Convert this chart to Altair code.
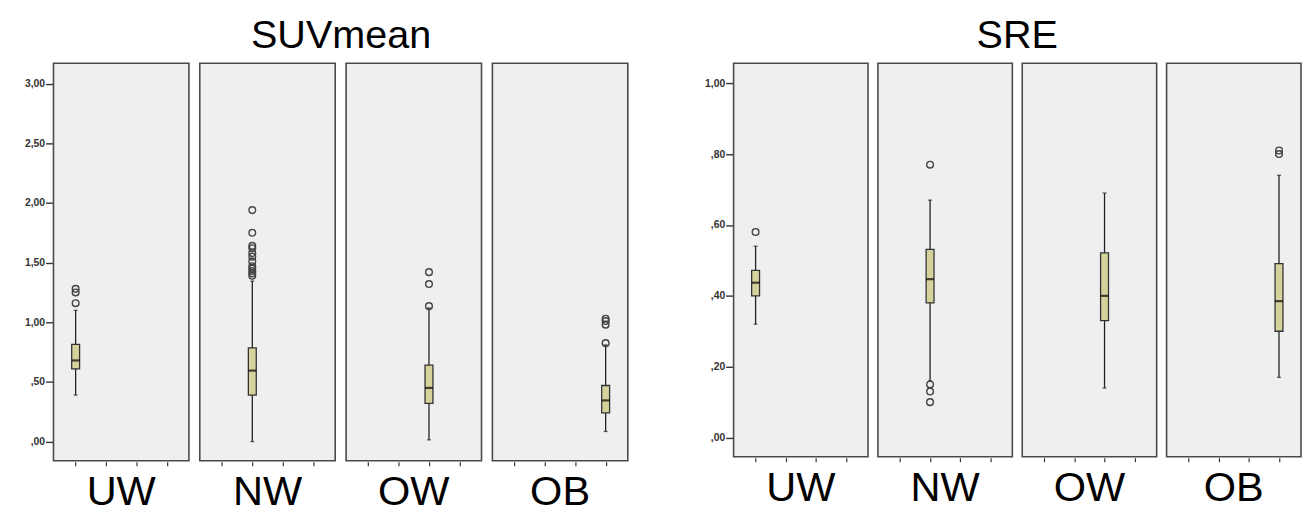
import altair as alt
import pandas as pd

groups = ["UW", "NW", "OW", "OB"]

# SUVmean boxplot statistics
suv_lo = [0.39, 0.00, 0.015, 0.085]
suv_q1 = [0.61, 0.39, 0.32, 0.24]
suv_med = [0.68, 0.595, 0.45, 0.345]
suv_q3 = [0.815, 0.785, 0.64, 0.47]
suv_hi = [1.10, 1.345, 1.12, 0.81]
suv_out_UW = [1.28, 1.25, 1.16]
suv_out_NW = [1.94, 1.75, 1.64, 1.62, 1.58, 1.55, 1.51, 1.47, 1.45, 1.43, 1.41, 1.39]
suv_out_OW = [1.42, 1.32, 1.135]
suv_out_OB = [1.03, 1.01, 0.98, 0.825]

# SRE boxplot statistics
sre_lo = [0.32, 0.16, 0.14, 0.17]
sre_q1 = [0.40, 0.38, 0.33, 0.30]
sre_med = [0.437, 0.447, 0.40, 0.385]
sre_q3 = [0.472, 0.531, 0.521, 0.491]
sre_hi = [0.54, 0.67, 0.69, 0.74]
sre_out_UW = [0.58]
sre_out_NW = [0.77, 0.15, 0.13, 0.10]
sre_out_OW = []
sre_out_OB = [0.81, 0.80]

suv_ticks = [0.0, 0.5, 1.0, 1.5, 2.0, 2.5, 3.0]
sre_ticks = [0.0, 0.2, 0.4, 0.6, 0.8, 1.0]


def make_df(lo, q1, med, q3, hi, outs):
    rows = []
    for i, g in enumerate(groups):
        rows.append(dict(group=g, kind="box", lo=lo[i], q1=q1[i], med=med[i],
                         q3=q3[i], hi=hi[i]))
        for v in outs[i]:
            rows.append(dict(group=g, kind="out", val=v))
    return pd.DataFrame(rows)


suv_df = make_df(suv_lo, suv_q1, suv_med, suv_q3, suv_hi,
                 [suv_out_UW, suv_out_NW, suv_out_OW, suv_out_OB])
sre_df = make_df(sre_lo, sre_q1, sre_med, sre_q3, sre_hi,
                 [sre_out_UW, sre_out_NW, sre_out_OW, sre_out_OB])

label_expr = ("datum.value < 1 ? replace(format(datum.value, '.2f'), '0.', ',') "
              ": replace(format(datum.value, '.2f'), '.', ',')")

BIG_FONT = "Liberation Sans"


def group_chart(df, domain, ticks, width, height, spacing, title, minext, tdx):
    x = alt.X("group:N", sort=groups,
              scale=alt.Scale(type="point", padding=0.73, domain=groups),
              axis=alt.Axis(title=None, labels=False, domain=False, ticks=True,
                            tickSize=4, tickColor="#333", tickWidth=1.2,
                            grid=False))
    yscale = alt.Scale(domain=domain, nice=False, zero=False)
    yaxis = alt.Axis(title=None, values=ticks, labelExpr=label_expr,
                     domain=False, grid=False, tickSize=7, tickColor="#333",
                     tickWidth=1.4, labelFont="Liberation Sans",
                     labelFontWeight="bold", labelFontSize=10.5,
                     labelColor="#333", labelPadding=1, minExtent=minext)

    def Y(f):
        return alt.Y(f, scale=yscale, axis=yaxis)

    base = alt.Chart(df)
    box = base.transform_filter("datum.kind == 'box'")
    rule = box.mark_rule(color="#222", strokeWidth=1.3).encode(
        x=x, y=Y("lo:Q"), y2="hi:Q")
    bar = box.mark_bar(size=8, fill="#d6d29c", stroke="#333",
                       strokeWidth=1.3).encode(x=x, y=Y("q1:Q"), y2="q3:Q")
    med = box.mark_tick(color="#000", size=8, thickness=2.2).encode(
        x=x, y=Y("med:Q"))
    caplo = box.mark_tick(color="#222", size=4, thickness=1.3).encode(
        x=x, y=Y("lo:Q"))
    caphi = box.mark_tick(color="#222", size=4, thickness=1.3).encode(
        x=x, y=Y("hi:Q"))
    out = base.transform_filter("datum.kind == 'out'").mark_point(
        shape="circle", size=46, filled=False, color="#444", strokeWidth=1.4,
        opacity=1).encode(x=x, y=Y("val:Q"))

    layer = alt.layer(rule, bar, med, caplo, caphi, out).properties(
        width=width, height=height)
    return layer.facet(
        column=alt.Column("group:N", sort=groups, title=None,
                          header=alt.Header(labelOrient="bottom",
                                            labelFontSize=42,
                                            labelFont=BIG_FONT,
                                            labelColor="#000",
                                            labelPadding=6)),
        spacing=spacing,
        title=alt.TitleParams(title, fontSize=40, font=BIG_FONT,
                              fontWeight="normal", color="#000", offset=7,
                              anchor="middle", dx=tdx),
    )


left = group_chart(suv_df, [-0.16, 3.17], suv_ticks, 137, 402, 9,
                   "SUVmean", 45, 23)
right = group_chart(sre_df, [-0.054, 1.056], sre_ticks, 136, 398, 8,
                    "SRE", 32, 16)

chart = alt.hconcat(left, right, spacing=73).configure(
    padding={"top": 5, "left": 0, "right": 0, "bottom": 0}
).configure_view(fill="#efefef", stroke="#4a4a4a", strokeWidth=1.6)

chart.save("out.html", embed_options={"renderer": "svg", "actions": False})
